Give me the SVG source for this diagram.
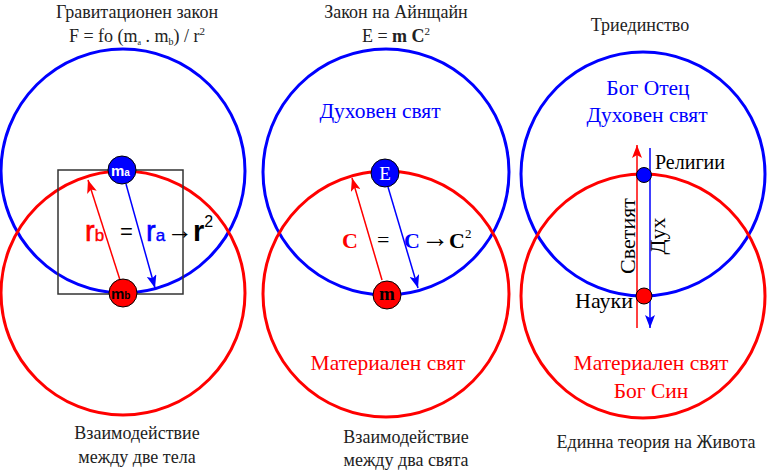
<svg xmlns="http://www.w3.org/2000/svg" width="768" height="471" viewBox="0 0 768 471">
<style>
.serif{font-family:"Liberation Serif","Times New Roman",serif}
.sans{font-family:"Liberation Sans",Arial,sans-serif}
.t{font-size:18px;fill:#222;text-anchor:middle}
.big{font-size:21.5px;text-anchor:middle}
.bc{fill:none;stroke:#0000ff;stroke-width:3}
.rc{fill:none;stroke:#ff0000;stroke-width:3}
.bn{fill:#0000ff;stroke:#000;stroke-width:1}
.rn{fill:#ff0000;stroke:#000;stroke-width:1}
.ra{stroke:#ff0000;stroke-width:1.5;fill:none;marker-end:url(#ah-r)}
.ba{stroke:#0000ff;stroke-width:1.5;fill:none;marker-end:url(#ah-b)}
</style>
<defs>
<marker id="ah-r" markerUnits="userSpaceOnUse" markerWidth="14" markerHeight="10" refX="13" refY="5" orient="auto"><path d="M0,0 L13,5 L0,10 L3,5 z" fill="#ff0000"/></marker>
<marker id="ah-b" markerUnits="userSpaceOnUse" markerWidth="14" markerHeight="10" refX="13" refY="5" orient="auto"><path d="M0,0 L13,5 L0,10 L3,5 z" fill="#0000ff"/></marker>
</defs>
<rect width="768" height="471" fill="#fff"/>

<!-- Left diagram -->
<g id="left-titles" class="serif">
<text class="t" x="137" y="18">Гравитационен закон</text>
<text class="t" x="137" y="42">F = fo (m<tspan font-size="8" dy="3">a</tspan><tspan dy="-3"> . m</tspan><tspan font-size="10" dy="3">b</tspan><tspan dy="-3">) / r</tspan><tspan font-size="11" dy="-7">2</tspan></text>
</g>
<g id="left-blue-circle"><circle class="bc" cx="123" cy="171" r="122"/></g>
<g id="left-red-circle"><circle class="rc" cx="123" cy="293" r="122"/></g>
<g id="left-square"><rect x="58" y="170" width="125" height="124" fill="none" stroke="#333" stroke-width="1.5"/></g>
<g id="connectors-left">
<line class="ra" x1="120" y1="280" x2="88" y2="180"/>
<line class="ba" x1="126" y1="184" x2="155" y2="288"/>
</g>
<g id="node-ma"><circle class="bn" cx="122" cy="170" r="14"/>
<text class="sans" x="111" y="176" font-weight="bold" font-size="15" fill="#fff">m<tspan font-size="10">a</tspan></text></g>
<g id="node-mb"><circle class="rn" cx="123" cy="293" r="14"/>
<text class="sans" x="111" y="299" font-weight="bold" font-size="15" fill="#000">m<tspan font-size="10">b</tspan></text></g>
<g id="left-formula" class="sans">
<text x="85" y="241" font-size="29" fill="#ff0000" stroke="#ff0000" stroke-width="0.6">r<tspan font-size="17" stroke-width="0.4">b</tspan></text>
<text x="120" y="239" font-size="22" fill="#000">=</text>
<text x="146" y="241" font-size="29" fill="#0000ff" stroke="#0000ff" stroke-width="0.6">r<tspan font-size="17" stroke-width="0.4">a</tspan></text>
<text x="167" y="239" font-size="26" fill="#000" class="serif">→<tspan class="sans" font-size="29" font-weight="bold" dy="2">r</tspan><tspan class="sans" font-size="16" dy="-14">2</tspan></text>
</g>
<g id="left-bottom" class="serif">
<text class="t" x="137" y="439">Взаимодействие</text>
<text class="t" x="137" y="463">между две тела</text>
</g>

<!-- Middle diagram -->
<g id="mid-titles" class="serif">
<text class="t" x="396" y="18">Закон на Айнщайн</text>
<text class="t" x="396" y="42">E = <tspan font-weight="bold">m C</tspan><tspan font-size="11" dy="-7">2</tspan></text>
</g>
<g id="mid-blue-circle"><circle class="bc" cx="386" cy="172" r="123"/></g>
<g id="mid-red-circle"><circle class="rc" cx="386" cy="294" r="123"/></g>
<g id="mid-spirit-label" class="serif"><text class="big" x="380" y="118" fill="#0000ff">Духовен свят</text></g>
<g id="mid-matter-label" class="serif"><text class="big" x="388" y="370" fill="#ff0000">Материален свят</text></g>
<g id="connectors-mid">
<line class="ra" x1="382" y1="280" x2="352" y2="178"/>
<line class="ba" x1="388" y1="187" x2="418" y2="288"/>
</g>
<g id="node-E"><circle class="bn" cx="385" cy="173" r="14"/>
<text class="serif" x="385" y="180" font-size="19" fill="#fff" text-anchor="middle">E</text></g>
<g id="node-m"><circle class="rn" cx="387" cy="295" r="14"/>
<text class="serif" x="387" y="300" font-size="19" font-weight="bold" fill="#000" text-anchor="middle">m</text></g>
<g id="mid-formula" class="serif" font-weight="bold">
<text x="342" y="248" font-size="22" fill="#ff0000">C</text>
<text x="377" y="247" font-size="22" font-weight="normal" fill="#000">=</text>
<text x="404" y="248" font-size="22" fill="#0000ff">C</text>
<text x="421" y="247" font-size="28" font-weight="normal" fill="#000">→</text>
<text x="449" y="248" font-size="22" fill="#000">C<tspan font-size="13" dy="-10" font-weight="normal">2</tspan></text>
</g>
<g id="mid-bottom" class="serif">
<text class="t" x="406" y="443">Взаимодействие</text>
<text class="t" x="406" y="466">между два свята</text>
</g>

<!-- Right diagram -->
<g id="right-title" class="serif"><text class="t" x="640" y="31">Триединство</text></g>
<g id="right-blue-circle"><circle class="bc" cx="643" cy="174" r="122"/></g>
<g id="right-red-circle"><circle class="rc" cx="643" cy="296" r="122"/></g>
<g id="right-spirit-label" class="serif">
<text class="big" x="648" y="95" fill="#0000ff">Бог Отец</text>
<text class="big" x="647" y="122" fill="#0000ff">Духовен свят</text>
</g>
<g id="right-matter-label" class="serif">
<text class="big" x="651" y="370" fill="#ff0000">Материален свят</text>
<text class="big" x="651" y="398" fill="#ff0000">Бог Син</text>
</g>
<g id="connectors-right">
<line class="ra" x1="637" y1="328" x2="637" y2="145"/>
<line class="ba" x1="650" y1="148" x2="650" y2="328"/>
</g>
<g id="node-religii"><circle class="bn" cx="644" cy="175" r="7.5"/>
<text class="serif" x="655" y="169" font-size="20" fill="#000">Религии</text></g>
<g id="node-nauki"><circle class="rn" cx="644" cy="296" r="8"/>
<text class="serif" x="633" y="308" font-size="22" fill="#000" text-anchor="end">Науки</text></g>
<g id="right-vertical-labels" class="serif">
<text x="635" y="236" font-size="22" fill="#000" text-anchor="middle" transform="rotate(-90 635 236)">Светият</text>
<text x="665" y="236" font-size="22" fill="#000" text-anchor="middle" transform="rotate(-90 665 236)">Дух</text>
</g>
<g id="right-bottom" class="serif"><text class="t" x="656" y="448">Единна теория на Живота</text></g>
</svg>
